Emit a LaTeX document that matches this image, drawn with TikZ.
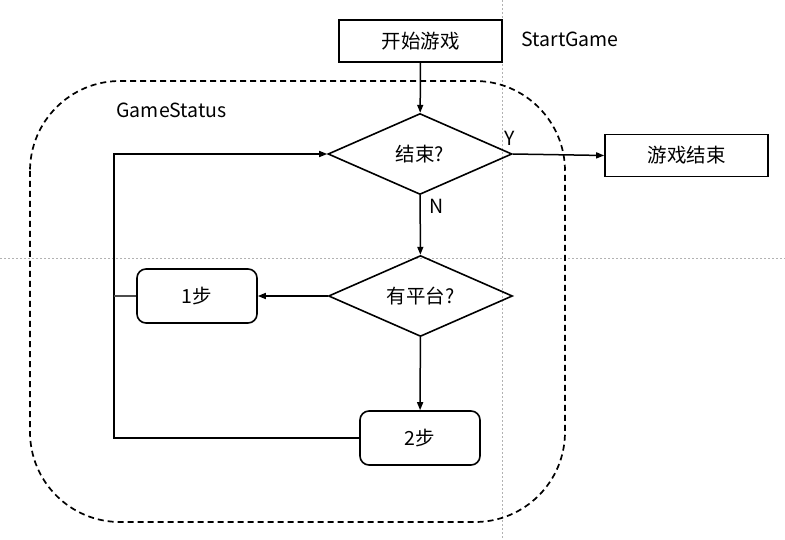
\documentclass[tikz,border=0pt]{standalone}
\usepackage{fontspec}
\setmainfont{Noto Sans CJK SC}
\usetikzlibrary{arrows.meta,shapes.geometric}

\begin{document}
\begin{tikzpicture}[x=1pt, y=-1pt, font=\fontsize{19.5}{22}\selectfont,
    flow/.style = {line width=1.5pt, -{Triangle[length=8pt,width=6pt]}},
    plainbox/.style = {draw, line width=1.6pt, inner sep=0pt, minimum width=163pt, minimum height=42pt},
    stepbox/.style = {draw, line width=1.6pt, rounded corners=9pt, inner sep=0pt, minimum width=120pt, minimum height=54pt},
    choice/.style = {draw, diamond, line width=1.6pt, inner sep=0pt, shape aspect=2.25, minimum width=184pt, minimum height=81pt},
    guide/.style = {gray!60, line width=0.7pt, dash pattern=on 2pt off 2pt}]

    \useasboundingbox (0,0) rectangle (785,540);

    % guides
    \draw[guide] (502,0) -- (502,540);
    \draw[guide] (0,258) -- (785,258);

    % game status frame
    \draw[line width=1.7pt, dash pattern=on 6pt off 4pt, rounded corners=90pt] (30,81) rectangle (565,522);
    \node[anchor=west] (status) at (113,110) {GameStatus};

    % nodes
    \node[plainbox] (start) at (420.5,41) {开始游戏};
    \node[anchor=west] (startlbl) at (518,39) {StartGame};
    \node[choice] (isover) at (420,154) {结束?};
    \node[plainbox] (over) at (686.5,155.5) {游戏结束};
    \node[choice] (hasplat) at (420.5,296) {有平台?};
    \node[stepbox] (one) at (197,296) {1步};
    \node[stepbox] (two) at (420,438) {2步};
    \node (yes) at (510,138) {Y};
    \node (no) at (437,206) {N};

    \coordinate (bl) at (114,438);
    \coordinate (tl) at (114,154);

    % connectors
    \draw[flow] (start) -- (isover);
    \draw[flow] (isover.east) -- (over.west);
    \draw[flow] (isover) -- (hasplat);
    \draw[flow] (hasplat.west) -- (one.east);
    \draw[flow] (hasplat) -- (two);
    \draw[flow] (two.west) -- (bl) -- (tl) -- (isover.west);
    \draw[line width=1.3pt, black!70] (one.west) -- (one.west -| bl);

\end{tikzpicture}
\end{document}
